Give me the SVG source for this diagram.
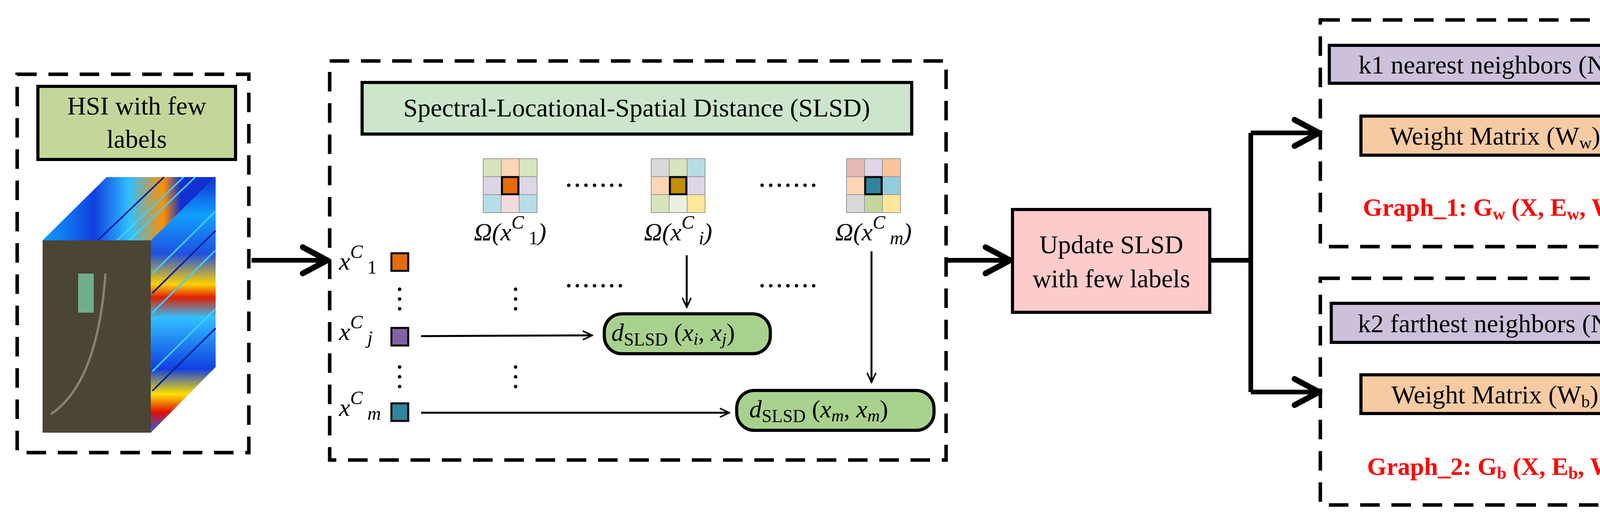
<svg xmlns="http://www.w3.org/2000/svg" width="4314" height="1333" viewBox="0 0 4314 1333">
<defs>
<style>
.dash{fill:none;stroke:#000;stroke-width:9;stroke-dasharray:50,30}
.box{stroke:#000;stroke-width:8}
.t{font-family:"Liberation Serif",serif;font-size:66px;fill:#000}
.m{font-family:"Liberation Serif",serif;font-style:italic;font-size:64px;fill:#000}
.r{font-family:"Liberation Serif",serif;font-weight:bold;font-size:64px;fill:#ff0000}
.thin{stroke:#000;stroke-width:5;fill:none}
.thick{stroke:#000;stroke-width:12;fill:none}
.dots{stroke:#000;stroke-width:9;stroke-dasharray:0,22;stroke-linecap:round;fill:none}
.cell{stroke:#999;stroke-width:2}
.streak{stroke-width:4;fill:none}
</style>
<marker id="a" viewBox="0 0 20 20" refX="18" refY="10" markerWidth="32" markerHeight="32" orient="auto" markerUnits="userSpaceOnUse"><path d="M3,3 L18,10 L3,17" fill="none" stroke="#000" stroke-width="2.5"/></marker>
<marker id="A" viewBox="0 0 20 20" refX="18" refY="10" markerWidth="7" markerHeight="7" orient="auto"><path d="M3,2 L18,10 L3,18" fill="none" stroke="#000" stroke-width="3.5" stroke-linecap="round"/></marker>
<linearGradient id="jet" x1="0" y1="0" x2="0" y2="1">
<stop offset="0" stop-color="#1030d0"/><stop offset="0.15" stop-color="#10a0ff"/><stop offset="0.3" stop-color="#2050e0"/><stop offset="0.42" stop-color="#ffd000"/><stop offset="0.47" stop-color="#e02000"/><stop offset="0.55" stop-color="#30c0ff"/><stop offset="0.75" stop-color="#1040e0"/><stop offset="0.85" stop-color="#ffe000"/><stop offset="0.92" stop-color="#e01000"/><stop offset="1" stop-color="#2060ff"/>
</linearGradient>
<linearGradient id="jet2" x1="0" y1="0" x2="1" y2="0">
<stop offset="0" stop-color="#10a0ff"/><stop offset="0.3" stop-color="#1040e0"/><stop offset="0.5" stop-color="#30c0ff"/><stop offset="0.7" stop-color="#ff9000"/><stop offset="0.8" stop-color="#1030d0"/><stop offset="1" stop-color="#1030d0"/>
</linearGradient>
</defs>

<g id="hsi">
<rect class="dash" x="44" y="190" width="593" height="968"/>
<rect class="box" x="97" y="221" width="506" height="187" fill="#c4d79b"/>
<text class="t" x="350" y="293" text-anchor="middle">HSI with few</text>
<text class="t" x="350" y="378" text-anchor="middle">labels</text>
<polygon points="109,615 273,453 552,453 386,615" fill="url(#jet2)"/>
<polygon points="386,615 552,453 552,939 386,1107" fill="url(#jet)"/>
<path class="streak" stroke="#40d0ff" d="M300,615 L470,453 M330,615 L500,453 M390,700 L552,540 M390,800 L552,640 M390,950 L552,790"/>
<path class="streak" stroke="#0020a0" d="M250,615 L420,453 M390,750 L552,590 M390,1000 L552,840"/>
<rect x="109" y="615" width="277" height="492" fill="#4a4535"/>
<rect x="200" y="700" width="40" height="100" fill="#7fdcb0" opacity="0.7"/>
<path d="M130,1060 Q250,980 270,700" stroke="#8a8070" stroke-width="6" fill="none"/>
</g>

<g id="slsd">
<rect class="dash" x="844" y="156" width="1578" height="1021"/>
<rect class="box" x="927" y="211" width="1407" height="132" fill="#cce5cc"/>
<text class="t" x="1630" y="298" text-anchor="middle">Spectral-Locational-Spatial Distance (SLSD)</text>
</g>

<g id="grid1">
<rect class="cell" x="1237" y="406" width="46" height="46" fill="#d7e4bd"/><rect class="cell" x="1283" y="406" width="46" height="46" fill="#fbd5b5"/><rect class="cell" x="1329" y="406" width="46" height="46" fill="#d7e4bd"/>
<rect class="cell" x="1237" y="452" width="46" height="46" fill="#dcd6e6"/><rect class="cell" x="1329" y="452" width="46" height="46" fill="#dcd6e6"/>
<rect class="cell" x="1237" y="498" width="46" height="46" fill="#b7dde8"/><rect class="cell" x="1283" y="498" width="46" height="46" fill="#f2dcdb"/><rect class="cell" x="1329" y="498" width="46" height="46" fill="#b7dde8"/>
<rect x="1285" y="453" width="42" height="44" fill="#e46c0a" stroke="#000" stroke-width="5"/>
<text class="m" x="1306" y="615" text-anchor="middle">Ω(x<tspan dy="-30" font-size="48">C</tspan><tspan dy="40" font-size="48" font-style="normal"> 1</tspan><tspan dy="-10">)</tspan></text>
</g>
<g id="grid2">
<rect class="cell" x="1667" y="406" width="46" height="46" fill="#d9d9d9"/><rect class="cell" x="1713" y="406" width="46" height="46" fill="#d7e4bd"/><rect class="cell" x="1759" y="406" width="46" height="46" fill="#b7dde8"/>
<rect class="cell" x="1667" y="452" width="46" height="46" fill="#fbd5b5"/><rect class="cell" x="1759" y="452" width="46" height="46" fill="#dcd6e6"/>
<rect class="cell" x="1667" y="498" width="46" height="46" fill="#d7e4bd"/><rect class="cell" x="1713" y="498" width="46" height="46" fill="#ebf1de"/><rect class="cell" x="1759" y="498" width="46" height="46" fill="#ffe699"/>
<rect x="1715" y="453" width="42" height="44" fill="#bf9000" stroke="#000" stroke-width="5"/>
<text class="m" x="1736" y="615" text-anchor="middle">Ω(x<tspan dy="-30" font-size="48">C</tspan><tspan dy="40" font-size="48"> i</tspan><tspan dy="-10">)</tspan></text>
</g>
<g id="grid3">
<rect class="cell" x="2167" y="406" width="46" height="46" fill="#e6b9b8"/><rect class="cell" x="2213" y="406" width="46" height="46" fill="#dcd6e6"/><rect class="cell" x="2259" y="406" width="46" height="46" fill="#f9c498"/>
<rect class="cell" x="2167" y="452" width="46" height="46" fill="#fbd5b5"/><rect class="cell" x="2259" y="452" width="46" height="46" fill="#93cddd"/>
<rect class="cell" x="2167" y="498" width="46" height="46" fill="#d9d9d9"/><rect class="cell" x="2213" y="498" width="46" height="46" fill="#c3d69b"/><rect class="cell" x="2259" y="498" width="46" height="46" fill="#ffe699"/>
<rect x="2215" y="453" width="42" height="44" fill="#31859c" stroke="#000" stroke-width="5"/>
<text class="m" x="2236" y="615" text-anchor="middle">Ω(x<tspan dy="-30" font-size="48">C</tspan><tspan dy="40" font-size="48"> m</tspan><tspan dy="-10">)</tspan></text>
</g>

<g id="samples">
<text class="m" x="868" y="690">x<tspan dy="-30" font-size="48">C</tspan><tspan dy="40" font-size="48" font-style="normal"> 1</tspan></text>
<rect x="1002" y="648" width="43" height="45" fill="#e46c0a" stroke="#000" stroke-width="5"/>
<text class="m" x="868" y="870">x<tspan dy="-30" font-size="48">C</tspan><tspan dy="40" font-size="48"> j</tspan></text>
<rect x="1002" y="839" width="43" height="45" fill="#8064a2" stroke="#000" stroke-width="5"/>
<text class="m" x="868" y="1064">x<tspan dy="-30" font-size="48">C</tspan><tspan dy="40" font-size="48"> m</tspan></text>
<rect x="1002" y="1032" width="43" height="45" fill="#31859c" stroke="#000" stroke-width="5"/>
</g>

<g id="d1">
<rect class="box" x="1547" y="803" width="425" height="102" rx="45" fill="#a9d18e"/>
<text class="m" x="1565" y="872">d<tspan font-style="normal" font-size="46" dy="12">SLSD</tspan><tspan dy="-12" font-style="normal"> (</tspan>x<tspan font-size="44" dy="10">i</tspan><tspan dy="-10" font-style="normal">, </tspan>x<tspan font-size="44" dy="10">j</tspan><tspan dy="-10" font-style="normal">)</tspan></text>
</g>
<g id="d2">
<rect class="box" x="1886" y="999" width="505" height="102" rx="45" fill="#a9d18e"/>
<text class="m" x="1918" y="1068">d<tspan font-style="normal" font-size="46" dy="12">SLSD</tspan><tspan dy="-12" font-style="normal"> (</tspan>x<tspan font-size="44" dy="10">m</tspan><tspan dy="-10" font-style="normal">, </tspan>x<tspan font-size="44" dy="10">m</tspan><tspan dy="-10" font-style="normal">)</tspan></text>
</g>

<g id="update">
<rect class="box" x="2592" y="536" width="505" height="263" fill="#fccbcb"/>
<text class="t" x="2845" y="648" text-anchor="middle">Update SLSD</text>
<text class="t" x="2845" y="735" text-anchor="middle">with few labels</text>
</g>

<g id="graph1">
<rect class="dash" x="3380" y="51" width="906" height="580"/>
<rect class="box" x="3403" y="116" width="849" height="97" fill="#ccc0da"/>
<text class="t" x="3827" y="188" text-anchor="middle">k1 nearest neighbors (N<tspan font-size="44" dy="10">k1</tspan><tspan dy="-10">)</tspan></text>
<rect class="box" x="3484" y="297" width="686" height="100" fill="#f6cba3"/>
<text class="t" x="3827" y="370" text-anchor="middle">Weight Matrix (W<tspan font-size="44" dy="10">w</tspan><tspan dy="-10">)</tspan></text>
<text class="r" x="3840" y="552" text-anchor="middle">Graph_1: G<tspan font-size="44" dy="10">w</tspan><tspan dy="-10"> (X, E</tspan><tspan font-size="44" dy="10">w</tspan><tspan dy="-10">, W</tspan><tspan font-size="44" dy="10">w</tspan><tspan dy="-10">)</tspan></text>
</g>
<g id="graph2">
<rect class="dash" x="3380" y="712" width="906" height="580"/>
<rect class="box" x="3408" y="776" width="847" height="100" fill="#ccc0da"/>
<text class="t" x="3831" y="850" text-anchor="middle">k2 farthest neighbors (N<tspan font-size="44" dy="10">k2</tspan><tspan dy="-10">)</tspan></text>
<rect class="box" x="3484" y="959" width="686" height="99" fill="#f6cba3"/>
<text class="t" x="3827" y="1032" text-anchor="middle">Weight Matrix (W<tspan font-size="44" dy="10">b</tspan><tspan dy="-10">)</tspan></text>
<text class="r" x="3840" y="1215" text-anchor="middle">Graph_2: G<tspan font-size="44" dy="10">b</tspan><tspan dy="-10"> (X, E</tspan><tspan font-size="44" dy="10">b</tspan><tspan dy="-10">, W</tspan><tspan font-size="44" dy="10">b</tspan><tspan dy="-10">)</tspan></text>
</g>

<g id="connectors">
<path class="thick" d="M644,666 H838" marker-end="url(#A)"/>
<path class="thick" d="M2418,666 H2586" marker-end="url(#A)"/>
<path class="thick" d="M3097,666 H3202"/>
<path class="thick" d="M3202,340 V1003"/>
<path class="thick" d="M3202,340 H3377" marker-end="url(#A)"/>
<path class="thick" d="M3202,1003 H3377" marker-end="url(#A)"/>
<path class="thin" d="M1758,653 V786" marker-end="url(#a)"/>
<path class="thin" d="M2231,643 V978" marker-end="url(#a)"/>
<path class="thin" d="M1078,860 L1516,858" marker-end="url(#a)"/>
<path class="thin" d="M1078,1056 H1867" marker-end="url(#a)"/>
<path class="dots" d="M1456,474 H1590 M1951,474 H2085 M1456,731 H1590 M1951,731 H2085"/>
<path class="dots" d="M1023,740 V800 M1023,939 V999 M1320,740 V800 M1320,939 V999" style="stroke-dasharray:0,25"/>
</g>
</svg>
